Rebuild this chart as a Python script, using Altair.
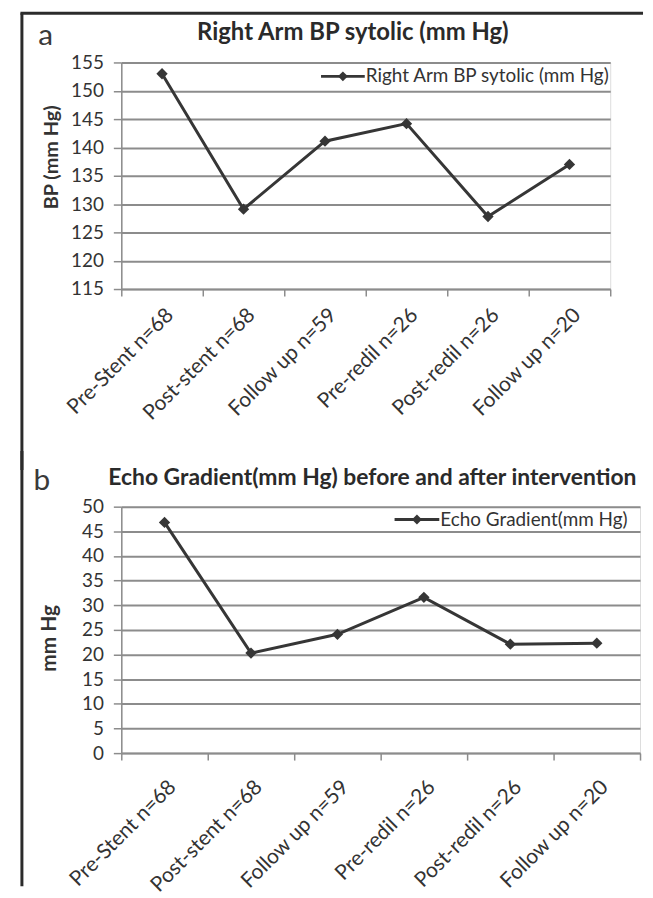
import altair as alt
import pandas as pd

categories = ["Pre-Stent n=68", "Post-stent n=68", "Follow up n=59",
              "Pre-redil n=26", "Post-redil n=26", "Follow up n=20"]
bp_values = [153.0, 129.1, 141.1, 144.2, 127.8, 137.0]
echo_values = [46.8, 20.3, 24.1, 31.6, 22.1, 22.3]
bp_ticks = [115, 120, 125, 130, 135, 140, 145, 150, 155]
echo_ticks = [0, 5, 10, 15, 20, 25, 30, 35, 40, 45, 50]

title_a = "Right Arm BP sytolic (mm Hg)"
title_b = "Echo Gradient(mm Hg) before and after intervention"
legend_a = "Right Arm BP sytolic (mm Hg)"
legend_b = "Echo Gradient(mm Hg)"

FONT = "Lato"
INK = "#363636"
TXT = "#333333"
GRID = "#8c8c8c"
FRAME = "#2b2b2b"

one = pd.DataFrame({"k": [0]})


def panel(values, domain, ticks, W, H, ytitle, ytsize, ytx, yty, letter, lx, ly,
          title, tsize, tx, ty, talign, leg_text, lg_x0, lg_x1, lg_y, frame_y0, frame_y1,
          xpad, top_rule=None):
    df = pd.DataFrame({"cat": categories, "val": values})
    x = alt.X("cat:N", sort=categories, bandPosition=0.5,
              scale=alt.Scale(type="band", paddingInner=0, paddingOuter=0),
              axis=alt.Axis(title=None, labelAngle=315, labelFont=FONT, labelFontSize=21,
                            labelColor=TXT, tickBand="extent", tickSize=7, tickColor=GRID,
                            tickWidth=1.5, domainColor=GRID, domainWidth=1.5, labelPadding=xpad,
                            grid=False))
    y = alt.Y("val:Q", scale=alt.Scale(domain=domain, nice=False, zero=False),
              axis=alt.Axis(values=ticks, title=ytitle, labelFont=FONT, labelFontSize=19,
                            labelColor=TXT, tickSize=8, tickColor=GRID, tickWidth=1.5,
                            domainColor=GRID, domainWidth=1.5, labelPadding=10,
                            grid=True, gridColor=GRID, gridWidth=2,
                            titleFont=FONT, titleFontSize=ytsize, titleFontWeight="bold",
                            titleColor=TXT, titleX=ytx, titleY=yty, titleAngle=270,
                            titleBaseline="middle", titleAlign="center"))
    line = alt.Chart(df).mark_line(color=INK, strokeWidth=3).encode(x=x, y=y)
    pts = alt.Chart(df).mark_point(shape="diamond", filled=True, size=130, color=INK,
                                   opacity=1).encode(x=x, y=y)
    lg_line = alt.Chart(one).mark_rule(color=INK, strokeWidth=3).encode(
        x=alt.value(lg_x0), x2=alt.value(lg_x1), y=alt.value(lg_y))
    lg_pt = alt.Chart(one).mark_point(shape="diamond", filled=True, size=100, color=INK,
                                      opacity=1).encode(
        x=alt.value((lg_x0 + lg_x1) / 2), y=alt.value(lg_y))
    lg_txt = alt.Chart(one).mark_text(font=FONT, fontSize=19, color=TXT, align="left",
                                      baseline="middle").encode(
        x=alt.value(lg_x1 + 1), y=alt.value(lg_y), text=alt.value(leg_text))
    let = alt.Chart(one).mark_text(font=FONT, fontSize=30, color="#3a3a3a", align="center",
                                   baseline="alphabetic").encode(
        x=alt.value(lx), y=alt.value(ly), text=alt.value(letter))
    ttl = alt.Chart(one).mark_text(font=FONT, fontSize=tsize, fontWeight="bold", color="#2a2a2a",
                                   align=talign, baseline="alphabetic").encode(
        x=alt.value(tx), y=alt.value(ty), text=alt.value(title))
    frame_v = alt.Chart(one).mark_rule(color=FRAME, strokeWidth=3).encode(
        x=alt.value(-100), y=alt.value(frame_y0), y2=alt.value(frame_y1))
    layers = [line, pts, lg_line, lg_pt, lg_txt, let, ttl, frame_v]
    if top_rule is not None:
        layers.append(alt.Chart(one).mark_rule(color=FRAME, strokeWidth=3).encode(
            x=alt.value(-101.5), x2=alt.value(top_rule[0]), y=alt.value(top_rule[1])))
    return alt.layer(*layers).properties(width=W, height=H)


panel_a = panel(bp_values, [115, 155], bp_ticks, 492, 228, "BP (mm Hg)", 20, -70, 95,
                "a", -76, -18, title_a, 24, 233, -23, "center", legend_a, 201, 245, 14,
                -49.5, 410, 8, top_rule=(525, -49.5))
panel_b = panel(echo_values, [0, 50], echo_ticks, 522, 248, "mm Hg", 21, -72, 132,
                "b", -80, -17, title_b, 23, -13, -22, "left", legend_b, 275, 320, 13,
                -56, 382, 16)

chart = alt.vconcat(panel_a, panel_b, spacing=-23).properties(
    padding={"left": 10, "top": 0, "right": 0, "bottom": 0}
).configure_view(stroke="transparent").configure(background="white")

chart.save("out.html", embed_options={"renderer": "svg", "actions": False})
